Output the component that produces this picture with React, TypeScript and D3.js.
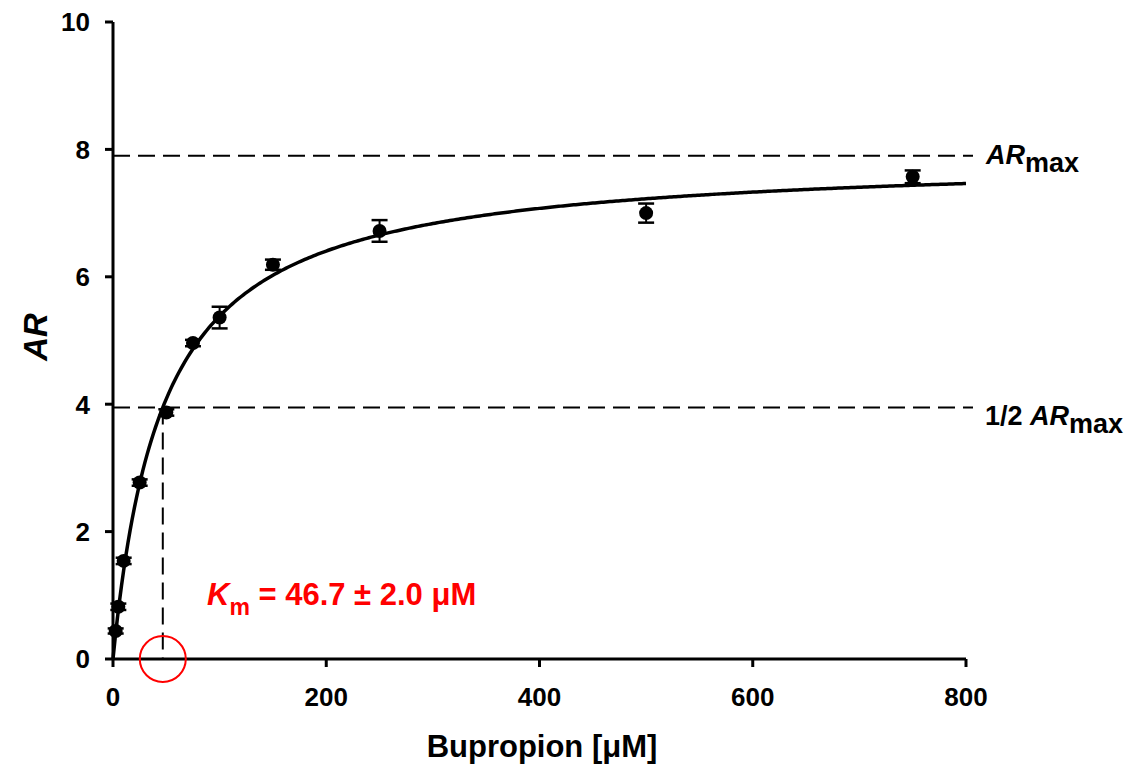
import React from "react";
import * as d3 from "d3";

const concentrations = [2.5, 5, 10, 25, 50, 75, 100, 150, 250, 500, 750];
const arValues = [0.44, 0.82, 1.54, 2.77, 3.87, 4.96, 5.36, 6.19, 6.72, 7.0, 7.57];
const arErrors = [0.04, 0.05, 0.05, 0.05, 0.05, 0.05, 0.17, 0.08, 0.17, 0.15, 0.1];
const xTicks = [0, 200, 400, 600, 800];
const yTicks = [0, 2, 4, 6, 8, 10];
const arMax = 7.9;
const km = 46.7;

export default function App() {
  const W = 1134, H = 767;
  const x = d3.scaleLinear().domain([0, 800]).range([113, 966]);
  const y = d3.scaleLinear().domain([0, 10]).range([659, 22]);
  const curveX = d3.range(0, 801, 2);
  const line = d3.line<number>().x((d) => x(d)).y((d) => y((arMax * d) / (km + d))).curve(d3.curveLinear);
  const font = "'Liberation Sans', Arial, sans-serif";
  return (
    <svg width={W} height={H} style={{ position: "absolute", left: 0, top: 0, background: "#fff" }} fontFamily={font}>
      {/* dashed guides */}
      <line x1={x(0)} x2={973} y1={y(arMax)} y2={y(arMax)} stroke="#000" strokeWidth={2} strokeDasharray="17,8" />
      <line x1={x(0)} x2={973} y1={y(arMax / 2)} y2={y(arMax / 2)} stroke="#000" strokeWidth={2} strokeDasharray="17,8" />
      <line x1={x(km)} x2={x(km)} y1={y(arMax / 2)} y2={y(0)} stroke="#000" strokeWidth={2} strokeDasharray="17,8" />
      {/* axes */}
      <line x1={x(0)} x2={x(0)} y1={y(10)} y2={y(0) + 1} stroke="#000" strokeWidth={3} />
      <line x1={x(0) - 1} x2={x(800)} y1={y(0)} y2={y(0)} stroke="#000" strokeWidth={3} />
      {yTicks.map((t) => (
        <g key={"y" + t}>
          <line x1={x(0) - 8} x2={x(0)} y1={y(t)} y2={y(t)} stroke="#000" strokeWidth={3} />
          <text x={90} y={y(t)} dy="0.36em" textAnchor="end" fontSize={26} fontWeight="bold">{t}</text>
        </g>
      ))}
      {xTicks.map((t) => (
        <g key={"x" + t}>
          <line x1={x(t)} x2={x(t)} y1={y(0)} y2={y(0) + 8} stroke="#000" strokeWidth={3} />
          <text x={x(t)} y={y(0) + 47} textAnchor="middle" fontSize={26} fontWeight="bold">{t}</text>
        </g>
      ))}
      {/* curve */}
      <path d={line(curveX) || ""} fill="none" stroke="#000" strokeWidth={3.5} />
      {/* points */}
      {concentrations.map((c, i) => (
        <g key={"p" + i}>
          <line x1={x(c)} x2={x(c)} y1={y(arValues[i] - arErrors[i])} y2={y(arValues[i] + arErrors[i])} stroke="#000" strokeWidth={2} />
          <line x1={x(c) - 8} x2={x(c) + 8} y1={y(arValues[i] - arErrors[i])} y2={y(arValues[i] - arErrors[i])} stroke="#000" strokeWidth={2.5} />
          <line x1={x(c) - 8} x2={x(c) + 8} y1={y(arValues[i] + arErrors[i])} y2={y(arValues[i] + arErrors[i])} stroke="#000" strokeWidth={2.5} />
          <circle cx={x(c)} cy={y(arValues[i])} r={7} fill="#000" />
        </g>
      ))}
      {/* km circle */}
      <circle cx={x(km)} cy={y(0)} r={23} fill="none" stroke="#ff0000" strokeWidth={2} />
      {/* labels */}
      <text x={986} y={y(arMax) + 8} fontSize={27} fontWeight="bold">
        <tspan fontStyle="italic">AR</tspan>
        <tspan dy={8} fontSize={27}>max</tspan>
      </text>
      <text x={985} y={y(arMax / 2) + 18} fontSize={27} fontWeight="bold">
        <tspan>1/2 </tspan>
        <tspan fontStyle="italic">AR</tspan>
        <tspan dy={8} fontSize={27}>max</tspan>
      </text>
      <text x={207} y={605} fontSize={31} fontWeight="bold" fill="#ff0000">
        <tspan fontStyle="italic">K</tspan>
        <tspan dy={10} fontSize={23}>m</tspan>
        <tspan dy={-10}> = 46.7 ± 2.0 μM</tspan>
      </text>
      <text transform={`translate(47,337) rotate(-90)`} textAnchor="middle" fontSize={33} fontWeight="bold" fontStyle="italic">AR</text>
      <text x={542} y={757} textAnchor="middle" fontSize={31} fontWeight="bold">Bupropion [μM]</text>
    </svg>
  );
}
